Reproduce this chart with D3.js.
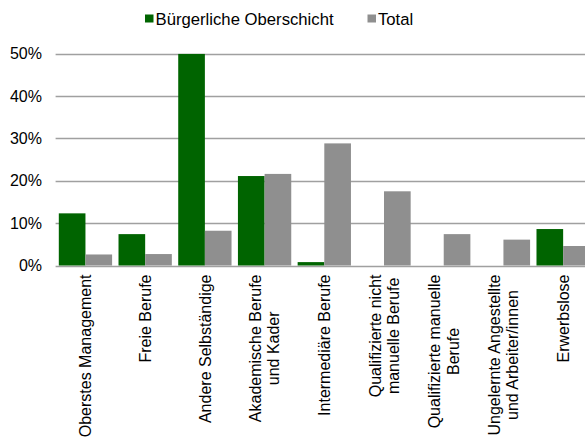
<!DOCTYPE html>
<html>
<head>
<meta charset="utf-8">
<script src="https://cdn.jsdelivr.net/npm/d3@7"></script>
<style>
  html, body { margin: 0; padding: 0; background: #fff; }
  text { font-family: "Liberation Sans", Arial, sans-serif; fill: #000; }
</style>
</head>
<body>
<svg id="chart" width="585" height="439"></svg>
<script>
const categories = [
  ["Oberstes Management"],
  ["Freie Berufe"],
  ["Andere Selbständige"],
  ["Akademische Berufe", "und Kader"],
  ["Intermediäre Berufe"],
  ["Qualifizierte nicht", "manuelle Berufe"],
  ["Qualifizierte manuelle", "Berufe"],
  ["Ungelernte Angestellte", "und Arbeiter/innen"],
  ["Erwerbslose"]
];
const seriesNames = ["Bürgerliche Oberschicht", "Total"];
const buergerliche = [12.3, 7.4, 49.9, 21.1, 0.8, 0, 0, 0, 8.6];
const total = [2.6, 2.7, 8.2, 21.6, 28.8, 17.5, 7.4, 6.1, 4.6];
const yTicks = [0, 10, 20, 30, 40, 50];
const colors = ["#006400", "#8f8f8f"];

const svg = d3.select("#chart");
const mLeft = 55.6, mRight = 593, mTop = 53.5, mBottom = 265.5;

const x = d3.scaleBand().domain(d3.range(categories.length)).range([mLeft, mRight]).paddingInner(0).paddingOuter(0);
const xs = d3.scaleBand().domain([0, 1]).range([3.2, x.bandwidth() - 3.2]);
const y = d3.scaleLinear().domain([0, 50]).range([mBottom, mTop]);

// gridlines
svg.append("g").selectAll("line").data(yTicks).join("line")
  .attr("x1", mLeft).attr("x2", 585)
  .attr("y1", d => Math.round(y(d)) + 0.5).attr("y2", d => Math.round(y(d)) + 0.5)
  .attr("stroke", "#a0a0a0").attr("stroke-width", 1.6);

// y labels
svg.append("g").selectAll("text").data(yTicks).join("text")
  .attr("x", 42).attr("y", d => y(d)).attr("dy", "0.36em")
  .attr("text-anchor", "end").style("font-size", "16px")
  .text(d => d + "%");

// bars
const series = [buergerliche, total];
series.forEach((vals, si) => {
  svg.append("g").selectAll("rect").data(vals).join("rect")
    .attr("x", (d, i) => x(i) + xs(si))
    .attr("width", xs.bandwidth())
    .attr("y", d => y(d))
    .attr("height", d => Math.max(0, y(0) - y(d)))
    .attr("fill", colors[si]);
});

// category labels rotated
const labTop = 274.5;
const lineH = 18.3;
categories.forEach((lines, i) => {
  const cx = x(i) + x.bandwidth() / 2;
  const g = svg.append("g").attr("transform", `translate(${cx},${labTop}) rotate(-90)`);
  const texts = lines.map((l, k) => g.append("text").style("font-size", "16px")
    .attr("text-anchor", "middle").text(l));
  const widths = texts.map(t => t.node().getComputedTextLength());
  const maxW = d3.max(widths);
  const n = lines.length;
  texts.forEach((t, k) => {
    t.attr("x", -maxW / 2)
     .attr("y", (k - (n - 1) / 2) * lineH)
     .attr("dy", "0.36em");
  });
});

// legend
const legend = svg.append("g");
const legX = [145, 367.5];
seriesNames.forEach((name, i) => {
  legend.append("rect").attr("x", legX[i]).attr("y", 14.5).attr("width", 8.5).attr("height", 8).attr("fill", colors[i]);
  legend.append("text").attr("x", legX[i] + 10.5).attr("y", 18.5).attr("dy", "0.36em")
    .style("font-size", "16.7px").text(name);
});
</script>
</body>
</html>
